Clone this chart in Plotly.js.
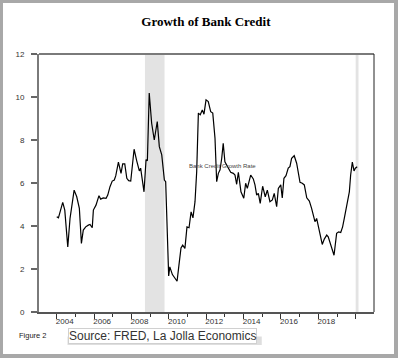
<!DOCTYPE html>
<html>
<head>
<meta charset="utf-8">
<script src="https://cdn.plot.ly/plotly-3.0.1.min.js"></script>
<style>
  html, body { margin: 0; padding: 0; width: 398px; height: 358px; background: #a8a8a8; overflow: hidden; }
  #chart { position: absolute; left: 3px; top: 3px; width: 391px; height: 351px; background: #ffffff; }
</style>
</head>
<body>
<div id="chart"></div>
<script>
// Decimal-year positions and growth rate (%)
const years = [
  2004.00, 2004.09, 2004.32, 2004.43, 2004.59, 2004.71, 2004.93, 2005.07, 2005.21, 2005.32,
  2005.42, 2005.55, 2005.69, 2005.78, 2005.90, 2005.96, 2006.10, 2006.26, 2006.35, 2006.49,
  2006.64, 2006.73, 2006.85, 2006.97, 2007.08, 2007.16, 2007.30, 2007.44, 2007.53, 2007.64,
  2007.75, 2007.85, 2007.96, 2008.14, 2008.28, 2008.42, 2008.49, 2008.58, 2008.67, 2008.78,
  2008.85, 2008.95, 2009.08, 2009.22, 2009.38, 2009.49, 2009.62, 2009.76, 2009.83, 2009.99,
  2010.05, 2010.19, 2010.44, 2010.54, 2010.65, 2010.74, 2010.86, 2010.97, 2011.08, 2011.19,
  2011.29, 2011.40, 2011.49, 2011.58, 2011.68, 2011.79, 2011.88, 2011.99, 2012.11, 2012.24,
  2012.35, 2012.47, 2012.56, 2012.65, 2012.74, 2012.83, 2012.91, 2013.00, 2013.18, 2013.31,
  2013.45, 2013.54, 2013.63, 2013.72, 2013.86, 2014.01, 2014.11, 2014.20, 2014.38, 2014.52,
  2014.61, 2014.70, 2014.79, 2014.89, 2015.02, 2015.16, 2015.27, 2015.41, 2015.54, 2015.64,
  2015.77, 2015.86, 2015.99, 2016.07, 2016.16, 2016.27, 2016.39, 2016.48, 2016.57, 2016.71,
  2016.84, 2016.93, 2017.02, 2017.14, 2017.25, 2017.38, 2017.52, 2017.64, 2017.73, 2017.82,
  2017.91, 2018.00, 2018.09, 2018.21, 2018.32, 2018.45, 2018.53, 2018.68, 2018.84, 2018.98,
  2019.09, 2019.20, 2019.30, 2019.39, 2019.48, 2019.60, 2019.66, 2019.73, 2019.82, 2019.91,
  2019.98, 2020.08
];
const growthRate = [
  4.43, 4.38, 5.10, 4.74, 3.03, 4.35, 5.67, 5.36, 4.82, 3.19,
  3.81, 3.96, 4.04, 4.07, 3.92, 4.74, 4.97, 5.41, 5.25, 5.31,
  5.29, 5.44, 5.83, 6.09, 6.14, 6.34, 6.97, 6.45, 6.89, 6.89,
  6.22, 6.11, 6.09, 7.57, 7.03, 6.56, 6.69, 5.99, 5.59, 7.09,
  7.03, 10.18, 8.78, 8.00, 8.86, 7.69, 7.31, 6.14, 6.06, 1.68,
  2.10, 1.74, 1.43, 2.18, 2.98, 3.11, 2.96, 3.96, 3.92, 4.66,
  4.38, 5.13, 6.53, 9.25, 9.17, 9.40, 9.20, 9.87, 9.79, 9.32,
  9.25, 8.08, 6.06, 6.45, 6.61, 7.15, 7.85, 6.99, 6.69, 6.50,
  6.45, 6.37, 5.94, 6.50, 5.59, 5.29, 5.99, 5.75, 6.37, 6.19,
  5.91, 5.44, 5.52, 5.05, 5.85, 5.36, 5.67, 5.13, 5.21, 5.52,
  4.90, 5.75, 5.91, 5.31, 6.22, 6.34, 6.69, 6.76, 7.15, 7.27,
  6.92, 6.37, 6.03, 5.99, 5.91, 5.31, 5.16, 4.82, 4.43, 4.20,
  4.35, 3.96, 3.61, 3.14, 3.39, 3.58, 3.50, 3.11, 2.64, 3.66,
  3.73, 3.70, 3.96, 4.35, 4.74, 5.21, 5.59, 6.37, 6.97, 6.56,
  6.69, 6.76
];
// Shaded periods (decimal years)
const shadeStart = [2008.72, 2020.00];
const shadeEnd   = [2009.77, 2020.15];
// Axis ticks
const xTickVals  = [2004, 2006, 2008, 2010, 2012, 2014, 2016, 2018, 2020];
const xTickText  = ['2004', '2006', '2008', '2010', '2012', '2014', '2016', '2018', ''];
const yTickVals  = [0, 2, 4, 6, 8, 10, 12];
const seriesName = 'Bank Credit Growth Rate';
const chartTitle = 'Growth of Bank Credit';
const figureLabel = 'Figure 2';
const sourceText = 'Source: FRED, La Jolla Economics';

const sansFont = 'Liberation Sans, Arial, sans-serif';

const shapes = shadeStart.map((s, i) => ({
  type: 'rect', xref: 'x', yref: 'paper', x0: s, x1: shadeEnd[i], y0: 0, y1: 1,
  fillcolor: '#e3e3e3', line: { width: 0 }, layer: 'below'
}));
// frame: top (gray) and right (black)
shapes.push({ type: 'line', xref: 'paper', yref: 'paper', x0: 0, x1: 1, y0: 1, y1: 1,
  line: { color: '#7a7a7a', width: 2 } });
shapes.push({ type: 'line', xref: 'paper', yref: 'paper', x0: 1, x1: 1, y0: 0, y1: 1,
  line: { color: '#222222', width: 1 } });
// soft shadow under the source box
shapes.push({ type: 'rect', xref: 'paper', yref: 'paper',
  x0: 0.085, x1: 0.665, y0: -0.128, y1: -0.095,
  fillcolor: 'rgba(0,0,0,0.13)', line: { width: 0 }, layer: 'above' });

const trace = {
  x: years, y: growthRate, type: 'scatter', mode: 'lines', name: seriesName,
  line: { color: '#000000', width: 1.2 }, hoverinfo: 'skip'
};

const layout = {
  width: 391, height: 351,
  margin: { l: 36, r: 20, t: 51, b: 42, pad: 0 },
  paper_bgcolor: '#ffffff', plot_bgcolor: '#ffffff',
  showlegend: false,
  title: {
    text: '<b>' + chartTitle + '</b>',
    font: { family: 'Liberation Serif, Times New Roman, serif', size: 13, color: '#000' },
    xref: 'container', x: 0.519, xanchor: 'center',
    yref: 'container', y: 0.947, yanchor: 'middle'
  },
  xaxis: {
    range: [2003.05, 2020.98], showgrid: false, zeroline: false,
    showline: true, linecolor: '#555555', linewidth: 1.5,
    tickmode: 'array', tickvals: xTickVals, ticktext: xTickText,
    ticks: 'outside', ticklen: 5, tickwidth: 1, tickcolor: '#333',
    ticklabelshift: 8, ticklabelstandoff: -4,
    minor: { dtick: 1, tick0: 2003, ticks: 'outside', ticklen: 3, tickwidth: 1, tickcolor: '#333', showgrid: false },
    tickfont: { family: sansFont, size: 8, color: '#333' }
  },
  yaxis: {
    range: [0, 12], showgrid: false, zeroline: false,
    showline: true, linecolor: '#7a7a7a', linewidth: 2,
    tickmode: 'array', tickvals: yTickVals,
    ticks: 'outside', ticklen: 6, tickwidth: 1.5, tickcolor: '#666',
    ticklabelstandoff: 5,
    tickfont: { family: sansFont, size: 8, color: '#333' }
  },
  shapes: shapes,
  annotations: [
    { x: 2012.87, y: 6.79, xref: 'x', yref: 'y', text: seriesName, showarrow: false,
      font: { family: sansFont, size: 6, color: '#444' } },
    { x: -0.066, y: -0.0904, xref: 'paper', yref: 'paper', xanchor: 'left', yanchor: 'middle',
      text: figureLabel, showarrow: false, font: { family: sansFont, size: 7.5, color: '#222' } },
    { x: 0.370, y: -0.093, xref: 'paper', yref: 'paper', xanchor: 'center', yanchor: 'middle',
      text: sourceText, showarrow: false, bgcolor: '#ffffff', bordercolor: '#d0d0d0', borderwidth: 1, borderpad: 0,
      font: { family: sansFont, size: 12, color: '#333' } }
  ]
};

Plotly.newPlot('chart', [trace], layout, { staticPlot: true, displayModeBar: false });
</script>
</body>
</html>
